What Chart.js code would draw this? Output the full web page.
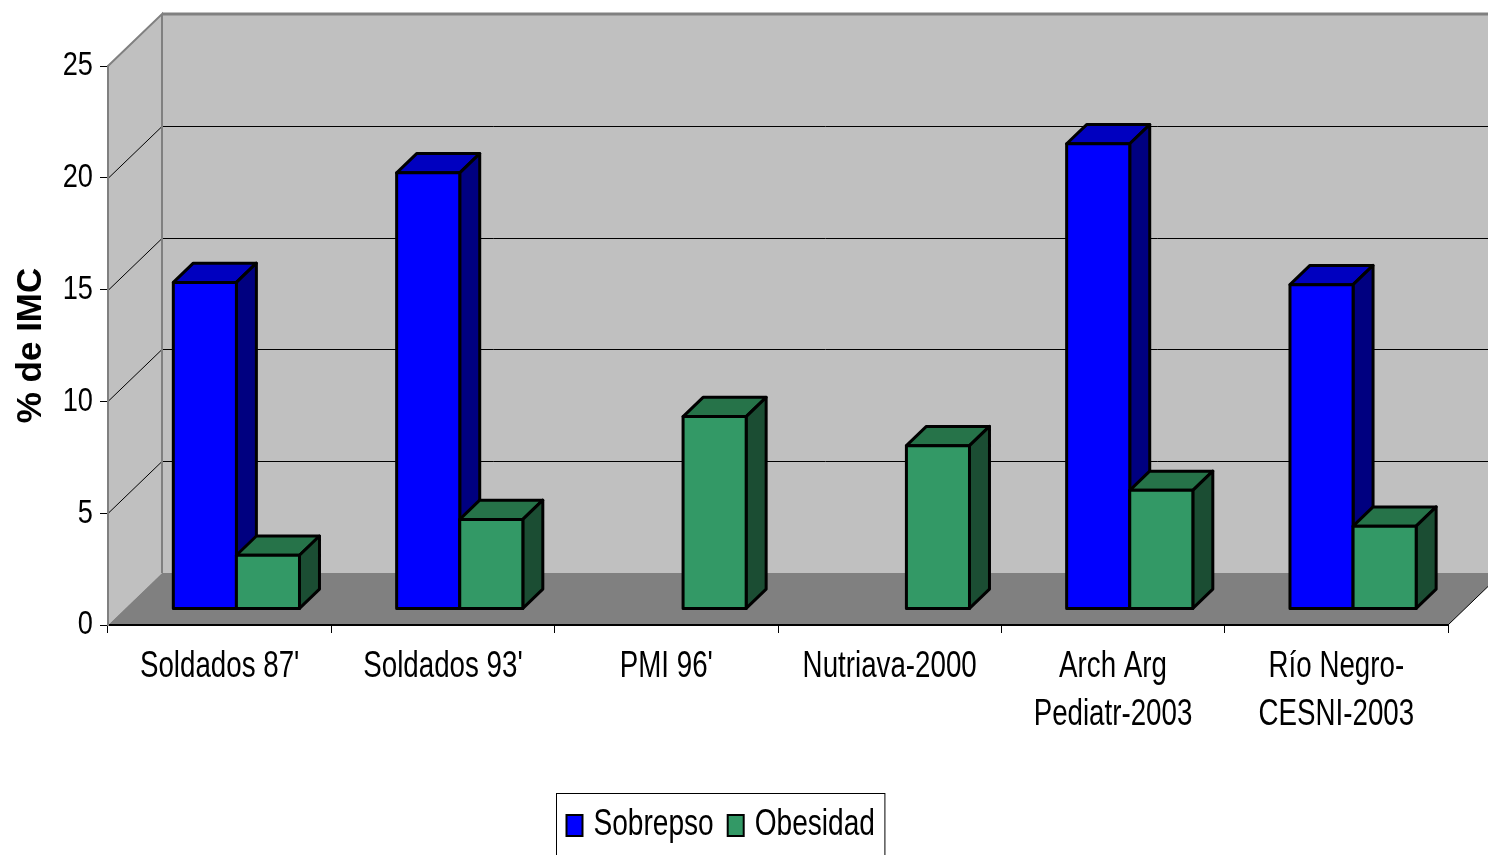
<!DOCTYPE html>
<html>
<head>
<meta charset="utf-8">
<title>% de IMC</title>
<script src="https://cdn.jsdelivr.net/npm/chart.js@4.4.1/dist/chart.umd.min.js"></script>
<style>
  html, body { margin: 0; padding: 0; background: #ffffff; overflow: hidden; }
  canvas { display: block; }
</style>
</head>
<body>
<canvas id="chart" width="1488" height="855"></canvas>
<script>
// ---- data ----
const categories = [
  "Soldados 87'",
  "Soldados 93'",
  "PMI 96'",
  "Nutriava-2000",
  ["Arch Arg", "Pediatr-2003"],
  ["Río Negro-", "CESNI-2003"]
];
const sobrepesoValues = [14.6, 19.5, null, null, 20.8, 14.5];
const obesidadValues  = [2.4, 4.0, 8.6, 7.3, 5.3, 3.7];
const seriesNames = ["Sobrepso", "Obesidad"];
const yTicks = [0, 5, 10, 15, 20, 25];
const yTitle = "% de IMC";

// ---- style ----
const SANS = '"Liberation Sans", Arial, sans-serif';
const WALL = '#c0c0c0';
const FLOOR = '#808080';
const EDGE = '#808080';
const DEPTH = { dx: 54, dy: -52 };       // full depth of the walls
const GAP_FRONT = 0.31;                   // bars sit this far back into the depth
const BAR_DEPTH = 0.37;                   // bars' own depth, as a share of the wall depth
const SQUEEZE = 0.77;                     // narrow lettering for axis and legend text

function poly(ctx, pts) {
  ctx.beginPath();
  ctx.moveTo(pts[0][0], pts[0][1]);
  for (let i = 1; i < pts.length; i++) ctx.lineTo(pts[i][0], pts[i][1]);
  ctx.closePath();
}

// text drawn with a horizontal squeeze, like a narrow typeface
function narrowText(ctx, text, x, y, size, align, baseline, sx) {
  ctx.save();
  ctx.translate(x, y);
  ctx.scale(sx || SQUEEZE, 1);
  ctx.font = size + 'px ' + SANS;
  ctx.fillStyle = '#000000';
  ctx.textAlign = align;
  ctx.textBaseline = baseline;
  ctx.fillText(text, 0, 0);
  ctx.restore();
}

function drawBox(ctx, xl, xr, yt, yb, ds) {
  const bx = DEPTH.dx * BAR_DEPTH, by = DEPTH.dy * BAR_DEPTH;
  ctx.lineWidth = 3;
  ctx.strokeStyle = '#000000';
  ctx.lineJoin = 'round';
  // top face
  poly(ctx, [[xl, yt], [xr, yt], [xr + bx, yt + by], [xl + bx, yt + by]]);
  ctx.fillStyle = ds.topColor; ctx.fill(); ctx.stroke();
  // right side face
  poly(ctx, [[xr, yt], [xr + bx, yt + by], [xr + bx, yb + by], [xr, yb]]);
  ctx.fillStyle = ds.sideColor; ctx.fill(); ctx.stroke();
  // front face
  poly(ctx, [[xl, yt], [xr, yt], [xr, yb], [xl, yb]]);
  ctx.fillStyle = ds.backgroundColor; ctx.fill(); ctx.stroke();
}

const box3dPlugin = {
  id: 'box3d',
  // back wall, side wall, floor and their gridlines
  beforeDraw(chart) {
    const { ctx, chartArea: a, scales: { y } } = chart;
    const { dx, dy } = DEPTH;
    const y0 = y.getPixelForValue(yTicks[0]);
    const yT = y.getPixelForValue(yTicks[yTicks.length - 1]);
    ctx.save();
    ctx.fillStyle = WALL;
    ctx.fillRect(a.left + dx, yT + dy, a.right - a.left, y0 - yT);
    poly(ctx, [[a.left, yT], [a.left + dx, yT + dy], [a.left + dx, y0 + dy], [a.left, y0]]);
    ctx.fill();
    ctx.fillStyle = FLOOR;
    poly(ctx, [[a.left, y0], [a.left + dx, y0 + dy], [a.right + dx, y0 + dy], [a.right, y0]]);
    ctx.fill();

    // gridlines on the walls
    ctx.strokeStyle = '#000000';
    ctx.lineWidth = 1;
    yTicks.slice(1, -1).forEach(v => {
      const py = Math.round(y.getPixelForValue(v)) + 0.5;
      ctx.beginPath();
      ctx.moveTo(a.left, py);
      ctx.lineTo(a.left + dx, py + dy);
      ctx.lineTo(a.right + dx, py + dy);
      ctx.stroke();
    });

    // wall edges
    ctx.strokeStyle = EDGE;
    ctx.lineWidth = 3;
    ctx.beginPath();
    ctx.moveTo(a.left + dx, yT + dy);
    ctx.lineTo(a.right + dx, yT + dy);
    ctx.stroke();
    ctx.lineWidth = 2;
    ctx.beginPath();
    ctx.moveTo(a.left, yT);
    ctx.lineTo(a.left + dx, yT + dy);
    ctx.lineTo(a.left + dx, y0 + dy);
    ctx.stroke();

    // right edge of the floor
    ctx.strokeStyle = '#000000';
    ctx.lineWidth = 1;
    ctx.beginPath();
    ctx.moveTo(a.right, y0);
    ctx.lineTo(a.right + dx, y0 + dy);
    ctx.stroke();
    ctx.restore();
  },
  // columns drawn as boxes, category by category
  beforeDatasetsDraw(chart) {
    const { ctx } = chart;
    const fx = DEPTH.dx * GAP_FRONT, fy = DEPTH.dy * GAP_FRONT;
    ctx.save();
    categories.forEach((_, i) => {
      chart.data.datasets.forEach((ds, d) => {
        const v = ds.data[i];
        if (v === null || v === undefined) return;
        const el = chart.getDatasetMeta(d).data[i];
        const xl = el.x - el.width / 2 + fx;
        const xr = el.x + el.width / 2 + fx;
        drawBox(ctx, xl, xr, el.y + fy, el.base + fy, ds);
      });
    });
    ctx.restore();
    return false;
  },
  afterDraw(chart) {
    const { ctx, scales: { x, y } } = chart;
    ctx.save();

    // category labels under the axis
    x.ticks.forEach((t, i) => {
      const px = x.getPixelForTick(i);
      const lines = Array.isArray(t.label) ? t.label : [t.label];
      lines.forEach((line, k) => {
        narrowText(ctx, line, px, x.top + 52 + k * 48, 36, 'center', 'alphabetic');
      });
    });

    // value labels left of the axis
    y.ticks.forEach(t => {
      const py = y.getPixelForValue(t.value);
      narrowText(ctx, String(t.value), y.right - 15, py, 34, 'right', 'middle', 0.8);
    });

    // boxed legend under the chart
    const size = 36, sx = 0.78;
    ctx.font = size + 'px ' + SANS;
    const items = chart.data.datasets.map(ds => ({ ds, w: ctx.measureText(ds.label).width * sx }));
    const marker = 16, gapMT = 11, gapTM = 14, pad = 10;
    let total = pad * 2;
    items.forEach((it, k) => { total += marker + gapMT + it.w + (k < items.length - 1 ? gapTM : 0); });
    const cx = 720.5;
    const left = Math.round(cx - total / 2) + 0.5;
    const top = 793.5;
    ctx.strokeStyle = '#000000';
    ctx.lineWidth = 1;
    ctx.strokeRect(left, top, total, 80);
    let lx = left + pad;
    items.forEach(it => {
      ctx.fillStyle = it.ds.backgroundColor;
      ctx.fillRect(lx, 815, marker, 21);
      ctx.lineWidth = 2;
      ctx.strokeStyle = '#000000';
      ctx.strokeRect(lx, 815, marker, 21);
      lx += marker + gapMT;
      narrowText(ctx, it.ds.label, lx, 835, size, 'left', 'alphabetic', sx);
      lx += it.w + gapTM;
    });
    ctx.restore();
  }
};

new Chart(document.getElementById('chart'), {
  type: 'bar',
  data: {
    labels: categories,
    datasets: [
      {
        label: seriesNames[0],
        data: sobrepesoValues,
        backgroundColor: '#0000ff',
        topColor: '#0000c0',
        sideColor: '#000080'
      },
      {
        label: seriesNames[1],
        data: obesidadValues,
        backgroundColor: '#339966',
        topColor: '#267349',
        sideColor: '#1b4d33'
      }
    ]
  },
  options: {
    responsive: false,
    devicePixelRatio: 1,
    animation: false,
    layout: { padding: { top: 66, right: 40, bottom: 0, left: 0 } },
    datasets: { bar: { categoryPercentage: 0.565, barPercentage: 1 } },
    plugins: {
      legend: { display: false },
      tooltip: { enabled: false }
    },
    scales: {
      x: {
        grid: {
          drawOnChartArea: false,
          drawTicks: true,
          tickLength: 8,
          tickColor: '#000000',
          offset: true
        },
        border: { display: true, color: '#000000', width: 2 },
        ticks: { display: false, autoSkip: false, maxRotation: 0, minRotation: 0 },
        afterFit(scale) { scale.height = 230; }
      },
      y: {
        min: yTicks[0],
        max: yTicks[yTicks.length - 1],
        afterBuildTicks(scale) { scale.ticks = yTicks.map(v => ({ value: v })); },
        grid: {
          drawOnChartArea: false,
          drawTicks: true,
          tickLength: 8,
          tickColor: '#000000'
        },
        border: { display: true, color: '#808080', width: 2 },
        ticks: { display: false },
        title: {
          display: true,
          text: yTitle,
          color: '#000000',
          padding: { top: 10, bottom: 0 },
          font: { family: SANS, size: 35, weight: 'bold' }
        },
        afterFit(scale) { scale.width = 108; }
      }
    }
  },
  plugins: [box3dPlugin]
});
</script>
</body>
</html>
